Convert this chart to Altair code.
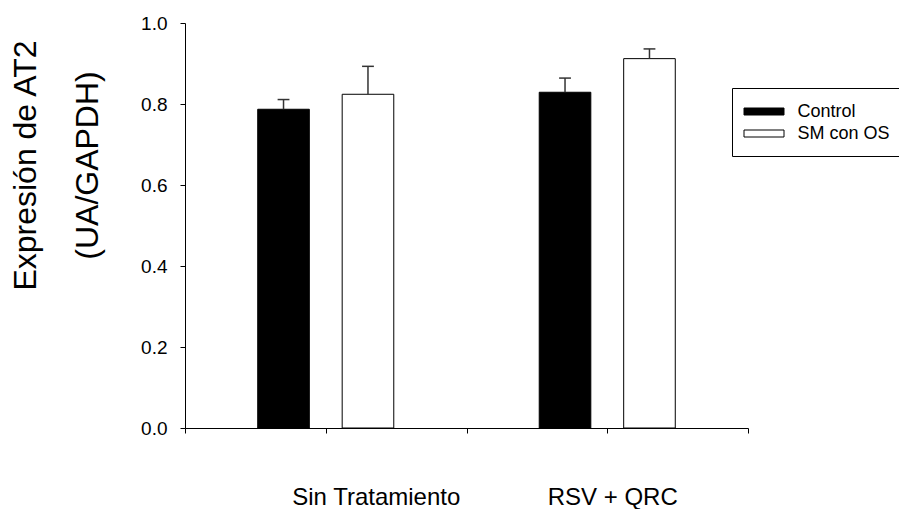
import altair as alt
import pandas as pd

# ---- data ----
groups = ["Sin Tratamiento", "RSV + QRC"]
series = ["Control", "SM con OS"]
means_control = [0.787, 0.829]
means_sm = [0.824, 0.912]
err_control = [0.024, 0.035]
err_sm = [0.069, 0.024]
colors = ["black", "white"]

# ---- layout on the continuous x axis (ticks at 0..4) ----
group_pos = [1, 3]
series_shift = [-0.3, 0.3]
cap_half = 0.042

rows = []
for si, (s, ms, es) in enumerate(zip(series, [means_control, means_sm], [err_control, err_sm])):
    for gi, g in enumerate(groups):
        c = group_pos[gi] + series_shift[si]
        rows.append(dict(grupo=g, serie=s, x=c, xl=c - cap_half, xr=c + cap_half,
                         mean=ms[gi], top=ms[gi] + es[gi]))
df = pd.DataFrame(rows)

FONT = "Liberation Sans"
xscale = alt.Scale(domain=[0, 4], nice=False, zero=False, padding=0)
yscale = alt.Scale(domain=[0, 1], nice=False, padding=0)

label_expr = ("datum.value == 1 ? '" + groups[0] + "' : (datum.value == 3 ? '"
              + groups[1] + "' : '')")
xaxis = alt.Axis(values=[0, 1, 2, 3, 4], title=None, tickSize=5, grid=False,
                 labelExpr=label_expr, labelFontSize=24, labelPadding=52,
                 labelOffset={"condition": {"test": "datum.value == 1", "value": 50}, "value": 5},
                 labelFlush=False, labelOverlap=False, labelBound=False)
yaxis = alt.Axis(values=[0, 0.2, 0.4, 0.6, 0.8, 1.0], format=".1f", tickSize=5, grid=False,
                 labelFontSize=19, labelPadding=13, labelFlush=False,
                 title=["Expresión de AT2", "(UA/GAPDH)"], titleFontSize=32,
                 titleFontWeight="normal", titleAngle=270, titleAlign="center",
                 titleBaseline="alphabetic", titleX=-150, titleY=142, titleLineHeight=62)

base = alt.Chart(df)

bars = base.mark_bar(size=51.6, stroke="black", strokeWidth=1).encode(
    x=alt.X("x:Q", scale=xscale, axis=xaxis),
    y=alt.Y("mean:Q", scale=yscale, axis=yaxis),
    fill=alt.Fill("serie:N", scale=alt.Scale(domain=series, range=colors),
                  legend=alt.Legend(title=None, orient="none", legendX=547, legendY=65,
                                    direction="vertical",
                                    symbolType="M-2,-0.35H2V0.35H-2Z", symbolSize=400,
                                    symbolOffset=8.5,
                                    symbolStrokeColor="black", symbolStrokeWidth=1,
                                    symbolOpacity=1, labelFontSize=18, labelOffset=23,
                                    labelFont=FONT, labelColor="black", rowPadding=2,
                                    padding=13, strokeColor="black", fillColor="white")),
)

err = base.mark_rule(color="#333333", strokeWidth=1.5).encode(
    x=alt.X("x:Q", scale=xscale, axis=xaxis),
    y=alt.Y("mean:Q", scale=yscale, axis=yaxis),
    y2="top:Q",
)

cap = base.mark_rule(color="#333333", strokeWidth=1.5).encode(
    x=alt.X("xl:Q", scale=xscale, axis=xaxis),
    x2="xr:Q",
    y=alt.Y("top:Q", scale=yscale, axis=yaxis),
)

chart = alt.layer(bars, err, cap).properties(
    width=563, height=405,
    autosize=alt.AutoSizeParams(type="none"),
    padding={"left": 185, "top": 23, "right": 151, "bottom": 81},
    background="white",
).configure_view(stroke=None).configure_axis(
    domainColor="black", tickColor="black", labelColor="black", titleColor="black",
    labelFont=FONT, titleFont=FONT, domainWidth=1, tickWidth=1,
)

chart.save("out.html", embed_options={"renderer": "svg", "actions": False})
